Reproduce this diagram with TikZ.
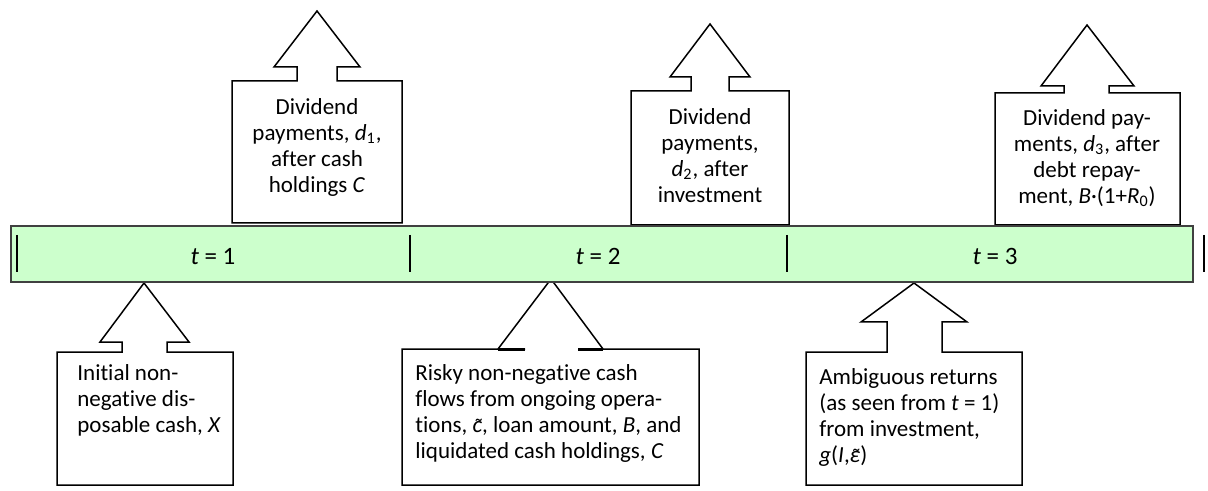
\documentclass[tikz,border=0pt]{standalone}
\usepackage{fontspec}
\setmainfont{Carlito}[Ligatures=NoCommon]
\usetikzlibrary{positioning}
\definecolor{barfill}{HTML}{CCFFCC}
\definecolor{bardraw}{HTML}{404040}
\newsavebox{\tildebase}
\newcommand{\tildeit}[1]{\leavevmode\sbox{\tildebase}{\textit{#1}}\rlap{\hbox to \wd\tildebase{\hss\kern0.12em\raisebox{-0.15ex}{\char"02DC}\hss}}\usebox{\tildebase}}
\tikzset{
  callout/.style={
    draw=black,
    line width=0.75pt,
    fill=white,
    line join=miter
  },
  boxtext/.style={
    inner sep=0pt,
    font=\fontsize{11.5}{13}\selectfont
  },
  toptext/.style={boxtext,anchor=north,align=center},
  lowtext/.style={boxtext,anchor=north west,align=left},
  timebar/.style={
    draw=bardraw,
    line width=0.75pt,
    fill=barfill,
    minimum width=591pt,
    minimum height=28pt,
    inner sep=0pt
  },
  barmark/.style={draw=black,line width=1pt},
  periodlabel/.style={inner sep=0pt,anchor=base,font=\fontsize{12.5}{14}\selectfont}
}

\begin{document}
\begin{tikzpicture}[x=0.5pt,y=-0.5pt]
\useasboundingbox (0,0) rectangle (1208,491);
% callouts above the time line
\draw[callout] (297,81) -- (232,81) -- (232,223) -- (402,223) -- (402,81) -- (337,81)
  -- (337,67) -- (360,67) -- (317,11) -- (274,67) -- (297,67) -- cycle;
\draw[callout] (691,91) -- (631,91) -- (631,225) -- (789,225) -- (789,91) -- (729,91)
  -- (729,77) -- (750,77) -- (710,24) -- (670,77) -- (691,77) -- cycle;
\draw[callout] (1064,93) -- (995,93) -- (995,225) -- (1180,225) -- (1180,93) -- (1109,93)
  -- (1109,86) -- (1134,86) -- (1087,25) -- (1041,86) -- (1064,86) -- cycle;
% callouts below the time line
\draw[callout] (122,352) -- (57,352) -- (57,485) -- (233,485) -- (233,352) -- (167,352)
  -- (167,342) -- (189,342) -- (144,283) -- (100,342) -- (122,342) -- cycle;
\draw[callout] (525,349) -- (402,349) -- (402,485) -- (699,485) -- (699,349) -- (578,349)
  -- (603,349) -- (551,279) -- (498,349) -- (525,349);
\draw[callout,line width=1.5pt] (498,349) -- (525,349) (578,349) -- (603,349);
\draw[callout] (887,352) -- (806,352) -- (806,485) -- (1022,485) -- (1022,352) -- (942,352)
  -- (942,322) -- (967,322) -- (914,283) -- (861,322) -- (887,322) -- cycle;

% time line
\node[timebar] (timeline) at (602,254) {};
\draw[barmark] (17,235) -- (17,272);
\draw[barmark] (410,235) -- (410,272);
\draw[barmark] (787,235) -- (787,272);
\draw[barmark] (1204,235) -- (1204,272);
\node[periodlabel] (per1) at (213,265) {\textit{t} = 1};
\node[periodlabel] (per2) at (598,265) {\textit{t} = 2};
\node[periodlabel] (per3) at (995,265) {\textit{t} = 3};

% texts
\node[toptext] (div1) at (317,98) {Dividend\\payments, \textit{d}\textsubscript{1},\\after cash\\holdings \textit{C}};
\node[toptext] (div2) at (710,108) {Dividend\\payments,\\\textit{d}\textsubscript{2}, after\\investment};
\node[toptext] (div3) at (1087,109) {Dividend pay-\\ments, \textit{d}\textsubscript{3}, after\\debt repay-\\ment, \textit{B}·(1+\textit{R}\textsubscript{0})};
\node[lowtext] (cash) at (77,364) {Initial non-\\negative dis-\\posable cash, \textit{X}};
\node[lowtext] (flows) at (415,364) {Risky non-negative cash\\flows from ongoing opera-\\tions, \tildeit{c}, loan amount, \textit{B}, and\\liquidated cash holdings, \textit{C}};
\node[lowtext] (returns) at (819,368) {Ambiguous returns\\(as seen from \textit{t} = 1)\\from investment,\\\textit{g}(\textit{I},\tildeit{ε})};
\end{tikzpicture}
\end{document}
